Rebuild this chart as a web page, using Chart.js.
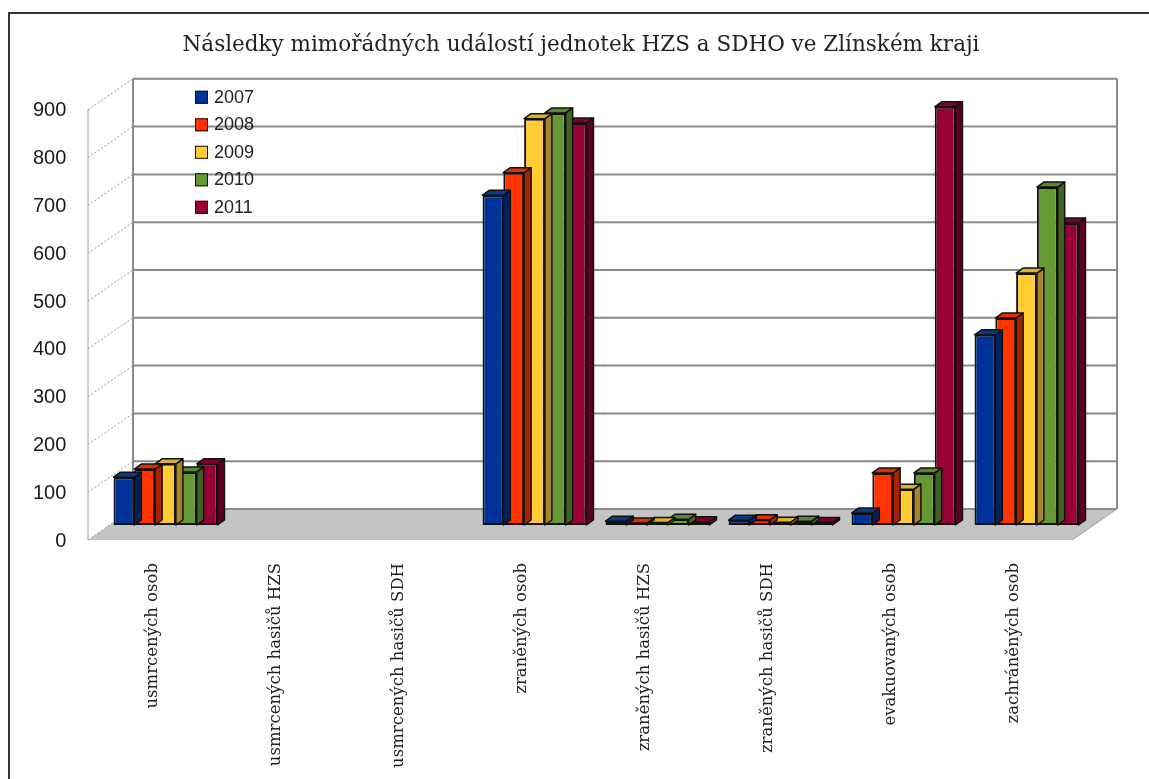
<!DOCTYPE html>
<html>
<head>
<meta charset="utf-8">
<script src="https://cdn.jsdelivr.net/npm/chart.js@4.4.1/dist/chart.umd.min.js"></script>
<style>
  html, body { margin: 0; padding: 0; background: #fff; }
</style>
</head>
<body>
<canvas id="c" width="1149" height="779"></canvas>
<script>
// kategorie a hodnoty
const categories = [
  'usmrcených osob',
  'usmrcených hasičů HZS',
  'usmrcených hasičů SDH',
  'zraněných osob',
  'zraněných hasičů HZS',
  'zraněných hasičů SDH',
  'evakuovaných osob',
  'zachráněných osob'
];
const years = ['2007', '2008', '2009', '2010', '2011'];

const v2007 = [100, 0, 0, 690, 8, 10, 25, 398];
const v2008 = [117, 0, 0, 737, 4, 11, 109, 433];
const v2009 = [128, 0, 0, 850, 5, 6, 75, 527];
const v2010 = [111, 0, 0, 862, 12, 8, 109, 707];
const v2011 = [128, 0, 0, 841, 7, 5, 875, 632];

const yMin = 0;
const yMax = 900;
const yStep = 100;

const frontColors = ['#003399', '#ff3300', '#ffcc33', '#669933', '#990033'];
const sideColors = ['#00205e', '#a82200', '#a8852a', '#42631f', '#5e0020'];
const topColors = ['#0b3a8a', '#e03000', '#e0b02c', '#5a8a2c', '#800029'];

// posuny pro "3D" vzhled
const FRONT = { dx: -16, dy: 15 };
const BACK = { dx: 29, dy: -16 };
const BAR_D = { dx: 7, dy: -5 };

function poly(ctx, pts) {
  ctx.beginPath();
  ctx.moveTo(pts[0][0], pts[0][1]);
  for (let i = 1; i < pts.length; i++) ctx.lineTo(pts[i][0], pts[i][1]);
  ctx.closePath();
}

const wall3d = {
  id: 'wall3d',
  beforeDraw(chart) {
    const ctx = chart.ctx;
    ctx.save();
    ctx.fillStyle = '#fff';
    ctx.fillRect(0, 0, chart.width, chart.height);
    ctx.restore();
  },
  beforeDatasetsDraw(chart) {
    const { ctx, chartArea: ca, scales } = chart;
    const y = scales.y;
    const y0 = y.getPixelForValue(yMin);
    const yT = y.getPixelForValue(yMax);
    ctx.save();

    // podlaha
    ctx.fillStyle = '#c4c4c4';
    poly(ctx, [
      [ca.left + FRONT.dx, y0 + FRONT.dy],
      [ca.right + FRONT.dx, y0 + FRONT.dy],
      [ca.right + BACK.dx, y0 + BACK.dy],
      [ca.left + BACK.dx, y0 + BACK.dy]
    ]);
    ctx.fill();

    // mřížka na zadní stěně + šikmé čárky vlevo
    y.ticks.forEach(t => {
      const py = y.getPixelForValue(t.value);
      ctx.strokeStyle = '#8a8a8a';
      ctx.lineWidth = 2;
      ctx.beginPath();
      ctx.moveTo(ca.left + BACK.dx, py + BACK.dy);
      ctx.lineTo(ca.right + BACK.dx, py + BACK.dy);
      ctx.stroke();
      ctx.strokeStyle = '#9a9a9a';
      ctx.lineWidth = 1;
      ctx.setLineDash([2, 2]);
      ctx.beginPath();
      ctx.moveTo(ca.left + FRONT.dx, py + FRONT.dy);
      ctx.lineTo(ca.left + BACK.dx, py + BACK.dy);
      ctx.stroke();
      ctx.setLineDash([]);
    });

    ctx.strokeStyle = '#8a8a8a';
    ctx.lineWidth = 2;
    ctx.beginPath();
    ctx.moveTo(ca.left + BACK.dx, yT + BACK.dy);
    ctx.lineTo(ca.left + BACK.dx, y0 + BACK.dy);
    ctx.moveTo(ca.right + BACK.dx, yT + BACK.dy);
    ctx.lineTo(ca.right + BACK.dx, y0 + BACK.dy);
    ctx.stroke();

    ctx.strokeStyle = '#a0a0a0';
    ctx.lineWidth = 1;
    ctx.beginPath();
    ctx.moveTo(ca.left + FRONT.dx, yT + FRONT.dy);
    ctx.lineTo(ca.left + FRONT.dx, y0 + FRONT.dy);
    ctx.moveTo(ca.right + BACK.dx, y0 + BACK.dy);
    ctx.lineTo(ca.right + FRONT.dx, y0 + FRONT.dy);
    ctx.stroke();
    ctx.restore();
  },
  beforeDatasetDraw(chart, args) {
    const ctx = chart.ctx;
    const i = args.index;
    const data = chart.data.datasets[i].data;
    ctx.save();
    ctx.strokeStyle = '#111';
    ctx.lineWidth = 1.5;
    ctx.lineJoin = 'round';
    args.meta.data.forEach((bar, j) => {
      if (!data[j]) return;
      const p = bar.getProps(['x', 'y', 'base', 'width'], true);
      const l = p.x - p.width / 2;
      const r = p.x + p.width / 2;
      ctx.fillStyle = sideColors[i];
      poly(ctx, [[r, p.y], [r + BAR_D.dx, p.y + BAR_D.dy], [r + BAR_D.dx, p.base + BAR_D.dy], [r, p.base]]);
      ctx.fill();
      ctx.stroke();
      ctx.fillStyle = topColors[i];
      poly(ctx, [[l, p.y], [l + BAR_D.dx, p.y + BAR_D.dy], [r + BAR_D.dx, p.y + BAR_D.dy], [r, p.y]]);
      ctx.fill();
      ctx.stroke();
    });
    ctx.restore();
  },
  afterDraw(chart) {
    const { ctx, chartArea: ca } = chart;
    ctx.save();
    // rámeček
    ctx.strokeStyle = '#333';
    ctx.lineWidth = 2;
    ctx.strokeRect(9, 13, chart.width + 20, chart.height + 20);

    // legenda uvnitř grafu
    ctx.font = '18px "Liberation Sans", Arial, sans-serif';
    ctx.textBaseline = 'middle';
    ctx.textAlign = 'left';
    chart.data.datasets.forEach((ds, i) => {
      const cy = ca.top + 2 + i * 27.5;
      const bx = ca.left + 91;
      ctx.fillStyle = frontColors[i];
      ctx.fillRect(bx, cy - 6, 13, 13);
      ctx.strokeStyle = '#111';
      ctx.lineWidth = 1;
      ctx.strokeRect(bx + 0.5, cy - 5.5, 12, 12);
      ctx.fillStyle = '#222';
      ctx.fillText(ds.label, bx + 19, cy + 1);
    });
    ctx.restore();
  }
};

const seriesValues = [v2007, v2008, v2009, v2010, v2011];

new Chart(document.getElementById('c'), {
  type: 'bar',
  data: {
    labels: categories,
    datasets: years.map((yr, i) => ({
      label: yr,
      data: seriesValues[i],
      backgroundColor: frontColors[i],
      borderColor: '#111',
      borderWidth: 2,
      borderSkipped: false,
      categoryPercentage: 0.845,
      barPercentage: 1
    }))
  },
  options: {
    responsive: false,
    animation: false,
    devicePixelRatio: 1,
    layout: { padding: { left: 74, right: 61, top: 0, bottom: 0 } },
    plugins: {
      legend: { display: false },
      tooltip: { enabled: false },
      title: {
        display: true,
        text: 'Následky mimořádných událostí jednotek HZS a SDHO ve Zlínském kraji',
        color: '#222',
        font: { family: '"DejaVu Serif", serif', size: 21.5, weight: 'normal' },
        padding: { top: 33, bottom: 36 }
      }
    },
    scales: {
      x: {
        grid: { display: false, drawTicks: false },
        border: { display: false },
        ticks: {
          color: '#222',
          font: { family: '"DejaVu Serif", serif', size: 16.5 },
          minRotation: 90,
          maxRotation: 90,
          autoSkip: false,
          padding: 38,
          labelOffset: -13
        },
        afterFit: s => { s.height = 254; }
      },
      y: {
        min: yMin,
        max: yMax,
        grid: { display: false, drawTicks: false },
        border: { display: false },
        ticks: {
          stepSize: yStep,
          color: '#1a1a1a',
          font: { family: '"Liberation Sans", Arial, sans-serif', size: 20 },
          // mirror = popisky se neořezávají podle šířky osy
          mirror: true,
          crossAlign: 'far',
          padding: -71,
          labelOffset: 16
        },
        afterFit: s => { s.width = 30; }
      }
    }
  },
  plugins: [wall3d]
});
</script>
</body>
</html>
